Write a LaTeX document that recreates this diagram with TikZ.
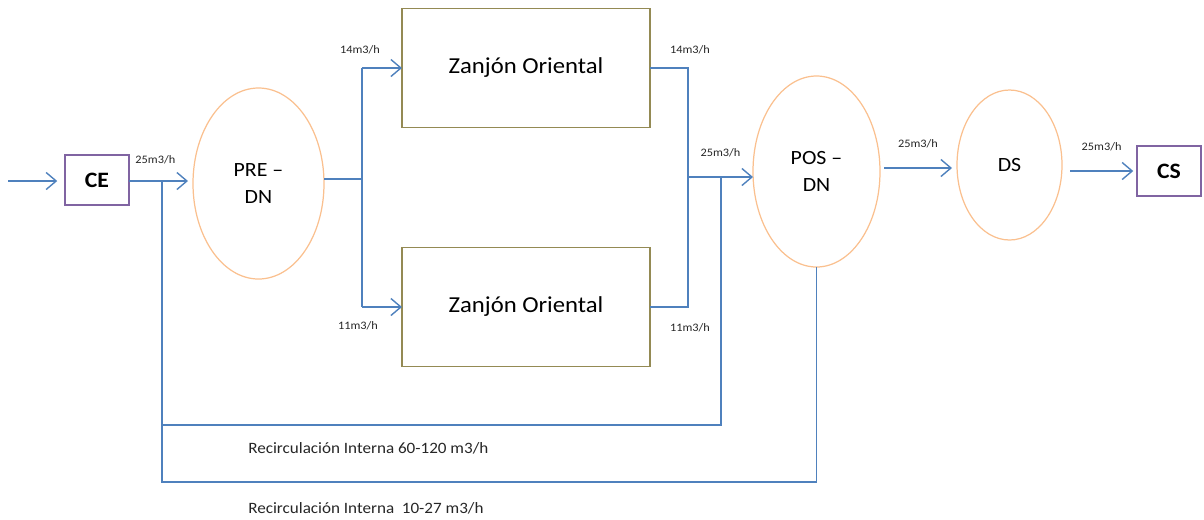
\documentclass[tikz,border=0pt]{standalone}
\usepackage{fontspec}
\setmainfont{Carlito}[FakeStretch=1.08]
\usepackage{tikz}
\usetikzlibrary{arrows.meta, positioning, shapes.geometric, calc}
\definecolor{flujo}{RGB}{79,129,189}
\definecolor{caja}{RGB}{148,138,84}
\definecolor{elipse}{RGB}{250,192,143}
\definecolor{morado}{RGB}{128,100,162}

\begin{document}
\begin{tikzpicture}[
    reactor/.style={draw=caja, line width=0.8pt, minimum width=4.96cm, minimum height=2.38cm, inner sep=0pt, outer sep=0pt, font=\fontsize{13}{15}\selectfont},
    tanque/.style={ellipse, draw=elipse, line width=0.7pt, inner sep=0pt, outer sep=0pt, align=center, font=\fontsize{11.5}{15}\selectfont},
    extremo/.style={draw=morado, line width=0.9pt, minimum width=1.27cm, minimum height=1.0cm, inner sep=0pt, outer sep=0pt, font=\fontsize{12.5}{14}\selectfont\bfseries},
    linea/.style={flujo, line width=0.8pt},
    flecha/.style={linea, -{Straight Barb[length=2mm, width=3.4mm]}},
    caudal/.style={text=black!85, font=\fontsize{6.5}{8}\selectfont},
    recirc/.style={text=black!85, font=\fontsize{9}{11}\selectfont, anchor=west, inner sep=0pt}
]
    \useasboundingbox (0,0) rectangle (24.08,-10.38);

    % camara de entrada y salida
    \node[extremo] (ce) at (1.94,-3.60) {CE};
    \node[extremo] (cs) at (23.38,-3.42) {CS};

    % tanques
    \node[tanque, minimum width=2.62cm, minimum height=3.82cm] (pre) at (5.17,-3.67) {PRE –\\DN};
    \node[tanque, minimum width=2.54cm, minimum height=3.82cm] (pos) at (16.33,-3.43) {POS –\\DN};
    \node[tanque, minimum width=2.10cm, minimum height=3.00cm] (ds) at (20.19,-3.30) {DS};

    % zanjones
    \node[reactor] (zanA) at (10.52,-1.36) {Zanjón Oriental};
    \node[reactor] (zanB) at (10.52,-6.14) {Zanjón Oriental};

    % puntos de union
    \coordinate (entrada) at (0.16,-3.62);
    \coordinate (union) at (3.24,-3.62);
    \coordinate (reparto) at (7.24,-3.58);
    \coordinate (mezcla) at (13.76,-3.54);
    \coordinate (retorno) at (14.42,-3.54);
    \coordinate (baja1) at (3.24,-8.50);
    \coordinate (baja2) at (3.24,-9.64);

    % entrada
    \draw[flecha] (entrada) -- ([xshift=-0.16cm]ce.west |- entrada);
    \draw[flecha] (ce.east |- entrada) -- node[caudal, above=0.2cm, pos=0.45] {25m3/h} ([xshift=-0.1cm]pre.west |- entrada);

    % reparto a los zanjones
    \draw[linea] (pre.east |- reparto) -- (reparto);
    \draw[linea] (reparto |- zanA.west) -- (reparto |- zanB.west);
    \draw[flecha] (reparto |- zanA.west) -- (zanA.west);
    \draw[flecha] (reparto |- zanB.west) -- (zanB.west);
    \node[caudal] (q14a) at (7.20,-1.00) {14m3/h};
    \node[caudal] (q11a) at (7.16,-6.52) {11m3/h};

    % salida de los zanjones
    \draw[linea] (zanA.east) -- (zanA.east -| mezcla) -- (zanB.east -| mezcla) -- (zanB.east);
    \node[caudal] (q14b) at (13.80,-1.00) {14m3/h};
    \node[caudal] (q11b) at (13.80,-6.56) {11m3/h};
    \draw[flecha] (mezcla) -- node[caudal, above=0.26cm, pos=0.5] {25m3/h} (pos.west |- mezcla);

    % recirculaciones
    \draw[linea] (retorno) -- (retorno |- baja1) -- (baja1);
    \draw[linea] (pos.south) -- (pos.south |- baja2) -- (baja2) -- (union);
    \node[recirc] (rec1) at (4.96,-8.96) {Recirculación Interna 60-120 m3/h};
    \node[recirc] (rec2) at (4.96,-10.16) {Recirculación Interna\ \ 10-27 m3/h};

    % salida
    \draw[flecha] ([xshift=0.08cm]pos.east |- 0,-3.36) -- node[caudal, above=0.26cm] {25m3/h} ([xshift=-0.1cm]ds.west |- 0,-3.36);
    \draw[flecha] ([xshift=0.16cm]ds.east |- cs.west) -- node[caudal, above=0.26cm] {25m3/h} ([xshift=-0.08cm]cs.west);
\end{tikzpicture}
\end{document}
